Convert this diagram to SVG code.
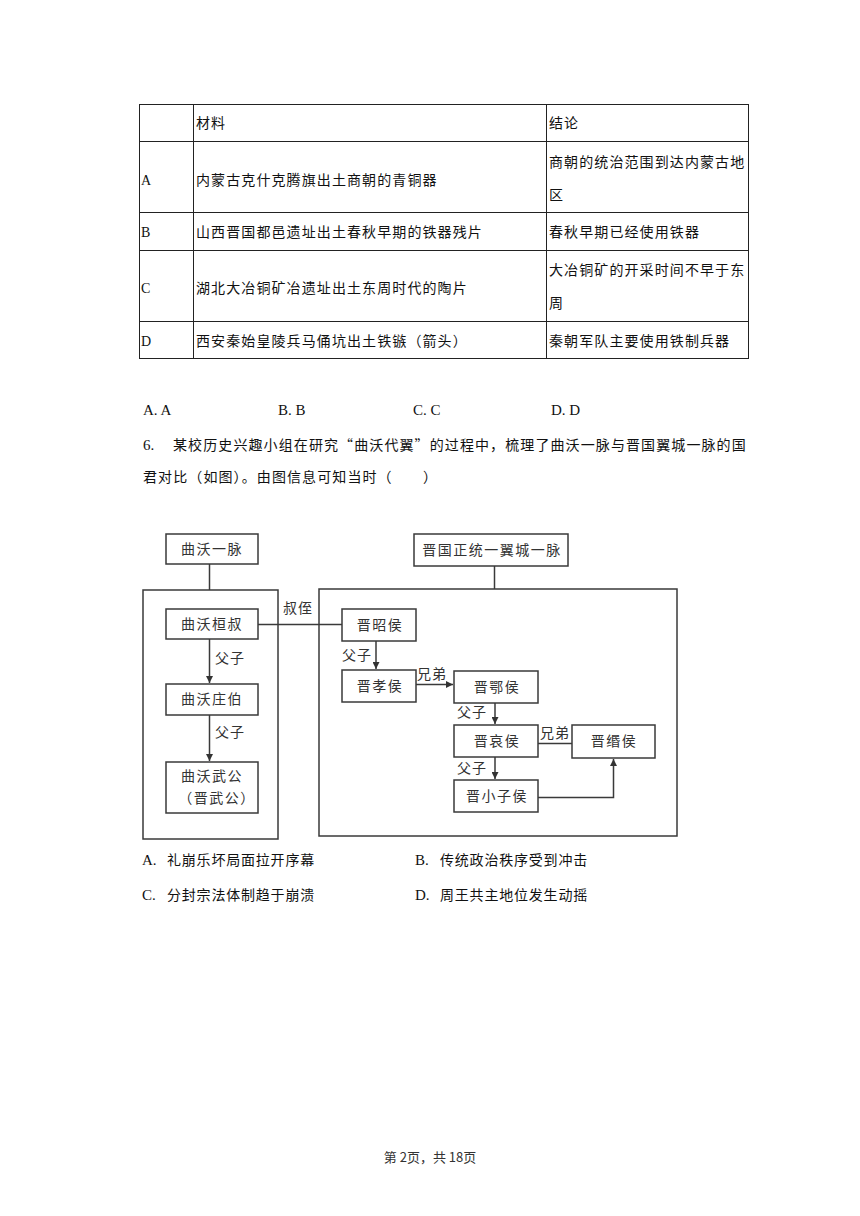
<svg xmlns="http://www.w3.org/2000/svg" width="860" height="1216" viewBox="0 0 860 1216">
<defs>
<marker id="arr" viewBox="0 0 10 10" refX="10" refY="5" markerWidth="7" markerHeight="7" markerUnits="userSpaceOnUse" orient="auto">
<path d="M0,0 L10,5 L0,10 z" fill="#333"/>
</marker>
<style>
.cj{font-family:"Noto Sans CJK SC","Noto Sans CJK JP",sans-serif;font-size:14px;fill:#111;letter-spacing:1.1px}
.lat{font-family:"Liberation Serif","Noto Sans CJK SC",serif;font-size:15px;fill:#111}
.tl{stroke:#222;stroke-width:1;fill:none}
.bx{fill:#fff;stroke:#3a3a3a;stroke-width:1.5}
.big{fill:none;stroke:#3a3a3a;stroke-width:1.5}
.ln{stroke:#3a3a3a;stroke-width:1.5;fill:none}
.dt{font-family:"Noto Sans CJK SC","Noto Sans CJK JP",sans-serif;font-size:14px;fill:#333;letter-spacing:1.5px;text-anchor:middle}
.lb{font-family:"Noto Sans CJK SC","Noto Sans CJK JP",sans-serif;font-size:14px;fill:#333;letter-spacing:1px}
.opt{font-family:"Noto Sans CJK SC","Noto Sans CJK JP",sans-serif;font-size:14px;fill:#111;letter-spacing:0.8px}
</style>
</defs>
<rect width="860" height="1216" fill="#fff"/>

<!-- table -->
<g id="table">
<rect class="tl" x="139.5" y="104.5" width="609" height="254"/>
<line class="tl" x1="193.5" y1="104.5" x2="193.5" y2="358.5"/>
<line class="tl" x1="546.5" y1="104.5" x2="546.5" y2="358.5"/>
<line class="tl" x1="139.5" y1="141.5" x2="748.5" y2="141.5"/>
<line class="tl" x1="139.5" y1="212.5" x2="748.5" y2="212.5"/>
<line class="tl" x1="139.5" y1="250.5" x2="748.5" y2="250.5"/>
<line class="tl" x1="139.5" y1="321.5" x2="748.5" y2="321.5"/>
<text class="cj" x="196" y="128">材料</text>
<text class="cj" x="549" y="128">结论</text>
<text class="lat" x="141" y="185" style="font-size:14px">A</text>
<text class="cj" x="196" y="185">内蒙古克什克腾旗出土商朝的青铜器</text>
<text class="cj" x="549" y="167">商朝的统治范围到达内蒙古地</text>
<text class="cj" x="549" y="200">区</text>
<text class="lat" x="141" y="237" style="font-size:14px">B</text>
<text class="cj" x="196" y="237">山西晋国都邑遗址出土春秋早期的铁器残片</text>
<text class="cj" x="549" y="237">春秋早期已经使用铁器</text>
<text class="lat" x="141" y="293" style="font-size:14px">C</text>
<text class="cj" x="196" y="293">湖北大冶铜矿冶遗址出土东周时代的陶片</text>
<text class="cj" x="549" y="275">大冶铜矿的开采时间不早于东</text>
<text class="cj" x="549" y="308">周</text>
<text class="lat" x="141" y="346" style="font-size:14px">D</text>
<text class="cj" x="196" y="346">西安秦始皇陵兵马俑坑出土铁镞（箭头）</text>
<text class="cj" x="549" y="346">秦朝军队主要使用铁制兵器</text>
</g>

<g id="q5-options">
<text class="lat" x="143" y="415">A. A</text>
<text class="lat" x="278" y="415">B. B</text>
<text class="lat" x="413" y="415">C. C</text>
<text class="lat" x="551" y="415">D. D</text>
</g>

<g id="q6-stem">
<text class="lat" x="143" y="450">6.</text>
<text class="cj" x="173" y="450">某校历史兴趣小组在研究“曲沃代翼”的过程中，梳理了曲沃一脉与晋国翼城一脉的国</text>
<text class="cj" x="143" y="482">君对比（如图）。由图信息可知当时（　　）</text>
</g>

<!-- diagram -->
<g id="connectors">
<line class="ln" x1="209.5" y1="564" x2="209.5" y2="590"/>
<line class="ln" x1="494.5" y1="566" x2="494.5" y2="589"/>
<line class="ln" x1="258" y1="624.5" x2="342" y2="624.5"/>
<line class="ln" x1="209.5" y1="639" x2="209.5" y2="683" marker-end="url(#arr)"/>
<line class="ln" x1="209.5" y1="715" x2="209.5" y2="761" marker-end="url(#arr)"/>
<line class="ln" x1="376" y1="641" x2="376" y2="669" marker-end="url(#arr)"/>
<line class="ln" x1="416" y1="684.5" x2="453" y2="684.5" marker-end="url(#arr)"/>
<line class="ln" x1="495" y1="703" x2="495" y2="724" marker-end="url(#arr)"/>
<line class="ln" x1="538" y1="743.5" x2="572" y2="743.5"/>
<line class="ln" x1="495" y1="757" x2="495" y2="779" marker-end="url(#arr)"/>
<polyline class="ln" points="538,797.5 613.5,797.5 613.5,759" marker-end="url(#arr)"/>
<text class="lb" x="283" y="613">叔侄</text>
<text class="lb" x="215" y="663">父子</text>
<text class="lb" x="215" y="737">父子</text>
<text class="lb" x="342" y="660">父子</text>
<text class="lb" x="417" y="679">兄弟</text>
<text class="lb" x="457" y="717">父子</text>
<text class="lb" x="540" y="738">兄弟</text>
<text class="lb" x="457" y="773">父子</text>
</g>

<g id="frame-quwo"><rect class="big" x="143" y="590" width="135" height="249"/></g>
<g id="frame-yi"><rect class="big" x="319" y="589" width="358" height="247"/></g>

<g id="n-quwo-line"><rect class="bx" x="166" y="534" width="92" height="30"/><text class="dt" x="212" y="554">曲沃一脉</text></g>
<g id="n-yi-line"><rect class="bx" x="414" y="534" width="154" height="32"/><text class="dt" x="492" y="555">晋国正统一翼城一脉</text></g>
<g id="n-huanshu"><rect class="bx" x="166" y="609" width="92" height="30"/><text class="dt" x="212" y="629">曲沃桓叔</text></g>
<g id="n-zhuangbo"><rect class="bx" x="166" y="684" width="92" height="31"/><text class="dt" x="212" y="704">曲沃庄伯</text></g>
<g id="n-wugong"><rect class="bx" x="166" y="762" width="92" height="51"/><text class="dt" x="212" y="781">曲沃武公</text><text class="dt" x="217" y="803">（晋武公）</text></g>
<g id="n-zhao"><rect class="bx" x="342" y="609" width="74" height="32"/><text class="dt" x="380" y="630">晋昭侯</text></g>
<g id="n-xiao"><rect class="bx" x="342" y="670" width="74" height="32"/><text class="dt" x="380" y="691">晋孝侯</text></g>
<g id="n-e"><rect class="bx" x="454" y="671" width="84" height="32"/><text class="dt" x="497" y="692">晋鄂侯</text></g>
<g id="n-ai"><rect class="bx" x="454" y="725" width="84" height="32"/><text class="dt" x="497" y="746">晋哀侯</text></g>
<g id="n-min"><rect class="bx" x="572" y="725" width="83" height="33"/><text class="dt" x="614" y="746">晋缗侯</text></g>
<g id="n-xiaozi"><rect class="bx" x="454" y="780" width="84" height="32"/><text class="dt" x="497" y="801">晋小子侯</text></g>

<g id="q6-options">
<text class="lat" x="142" y="865">A.</text>
<text class="opt" x="167" y="865">礼崩乐坏局面拉开序幕</text>
<text class="lat" x="415" y="865">B.</text>
<text class="opt" x="440" y="865">传统政治秩序受到冲击</text>
<text class="lat" x="142" y="900">C.</text>
<text class="opt" x="167" y="900">分封宗法体制趋于崩溃</text>
<text class="lat" x="415" y="900">D.</text>
<text class="opt" x="440" y="900">周王共主地位发生动摇</text>
</g>

<g id="footer">
<text x="430" y="1162" text-anchor="middle" style="font-family:'Noto Sans CJK SC',sans-serif;font-size:13px;fill:#333">第 2页，共 18页</text>
</g>
</svg>
